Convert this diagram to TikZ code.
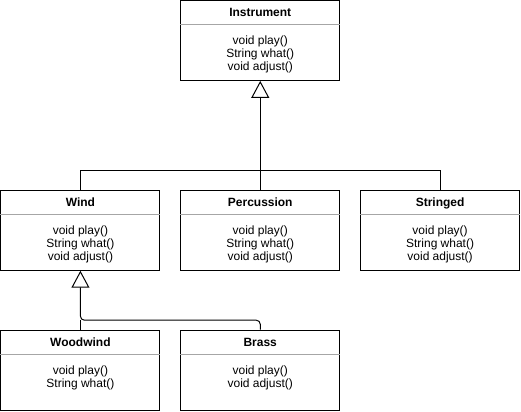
\documentclass[tikz,border=0pt]{standalone}
\usepackage{fontspec}
\setmainfont{Liberation Sans}
\usepackage{tikz}
\usetikzlibrary{arrows.meta,positioning}

\begin{document}
\begin{tikzpicture}[
        x=1pt, y=1pt,
        cls/.style={rectangle, draw, line width=1pt, fill=white, minimum width=159pt, minimum height=80pt, inner sep=0pt},
        ttl/.style={font=\fontsize{12}{13}\selectfont\bfseries, inner sep=0pt, anchor=base},
        ops/.style={font=\fontsize{12}{13}\selectfont, align=center, inner sep=0pt, anchor=north},
        sep/.style={draw=gray!70, line width=1pt},
        link/.style={line width=1pt},
        inherit/.style={line width=1pt, -{Triangle[open, length=17pt, width=18pt]}}
    ]
        \useasboundingbox (-0.5,0.5) rectangle (521,-411);

        % Class boxes
        \foreach \id/\cx/\cy/\name/\meth in {
            instr/260/40/Instrument/{void play()\\String what()\\void adjust()},
            wind/80/230/Wind/{void play()\\String what()\\void adjust()},
            perc/260/230/Percussion/{void play()\\String what()\\void adjust()},
            string/440/230/Stringed/{void play()\\String what()\\void adjust()},
            wood/80/370/Woodwind/{void play()\\String what()},
            brass/260/370/Brass/{void play()\\void adjust()}} {
            \node[cls] (\id) at (\cx,-\cy) {};
            \node[ttl] (\id-title) at ([yshift=-17pt]\id.north) {\name};
            \draw[sep] ([yshift=-25pt]\id.north west) -- ([yshift=-25pt]\id.north east);
            \node[ops] (\id-ops) at ([yshift=-35.5pt]\id.north) {\meth};
        }

        % Connections
        \coordinate (bus1) at (260,-170);
        \coordinate (bus2) at (80,-320);
        \draw[link] (wind.north) |- (bus1);
        \draw[link] (string.north) |- (bus1);
        \draw[inherit] (perc.north) -- (instr.south);
        \draw[link] (wood.north) -- (bus2);
        \draw[inherit, rounded corners=4pt] (brass.north) |- (bus2) -- (wind.south);
    \end{tikzpicture}
\end{document}
